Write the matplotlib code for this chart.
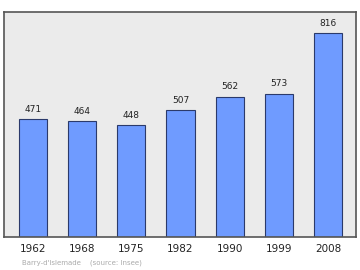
import matplotlib
matplotlib.use("Agg")
import matplotlib.pyplot as plt

years = ["1962", "1968", "1975", "1982", "1990", "1999", "2008"]
population = [471, 464, 448, 507, 562, 573, 816]

fig = plt.figure(figsize=(3.6, 2.7), dpi=100)
ax = fig.add_axes([4 / 360, 33 / 270, 352 / 360, 225 / 270])
ax.set_facecolor("#ebebeb")

x = range(len(years))
ax.bar(x, population, width=0.57, color="#6f9bff", edgecolor="#2b3a6b", linewidth=0.8, zorder=2)
for xi, v in zip(x, population):
    ax.text(xi, v + 22, str(v), ha="center", va="bottom", fontsize=6.5, color="#222222")

ax.set_xlim(-0.59, 6.57)
ax.set_ylim(0, 900)
ax.set_yticks([])
ax.set_xticks(list(x))
ax.set_xticklabels(years, fontsize=7.5, color="#222222")
ax.tick_params(axis="x", length=0, pad=5)
for s in ax.spines.values():
    s.set_color("#555555")
    s.set_linewidth(1.2)

fig.text(22 / 360, 1 - 263 / 270, "Barry-d'Islemade    (source: Insee)", fontsize=5,
         color="#aaaaaa", va="center")

fig.savefig("out.png", dpi=100)
